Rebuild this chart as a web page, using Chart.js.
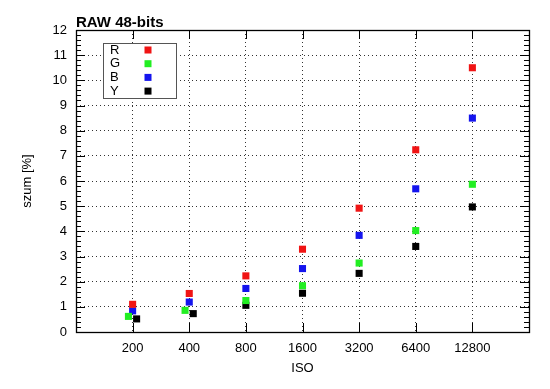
<!DOCTYPE html>
<html>
<head>
<meta charset="utf-8">
<script src="https://cdn.jsdelivr.net/npm/chart.js@4/dist/chart.umd.min.js"></script>
<style>
  body { margin: 0; background: #fff; }
  canvas { display: block; }
</style>
</head>
<body>
<canvas id="noiseChart" width="550" height="389"></canvas>
<script>
// ISO values (x) and noise in % per channel
const isoTicks = [200, 400, 800, 1600, 3200, 6400, 12800];
const isoR = [200, 400, 800, 1600, 3200, 6400, 12800];
const isoG = [190, 380, 800, 1600, 3200, 6400, 12800];
const isoB = [200, 400, 800, 1600, 3200, 6400, 12800];
const isoY = [210, 420, 800, 1600, 3200, 6400, 12800];
const noiseR = [1.10, 1.53, 2.23, 3.29, 4.92, 7.24, 10.5];
const noiseG = [0.62, 0.86, 1.25, 1.84, 2.74, 4.03, 5.87];
const noiseB = [0.84, 1.19, 1.73, 2.52, 3.84, 5.69, 8.50];
const noiseY = [0.52, 0.73, 1.06, 1.54, 2.33, 3.40, 4.97];
const yTicks = [0, 1, 2, 3, 4, 5, 6, 7, 8, 9, 10, 11, 12];

const font = 'Liberation Sans, Arial, sans-serif';

function pts(xs, ys) {
  return xs.map((x, i) => ({ x: x, y: ys[i] }));
}

function series(label, xs, ys, color) {
  return {
    label: label,
    data: pts(xs, ys),
    backgroundColor: color,
    borderColor: color,
    pointStyle: 'rect',
    pointRadius: 5,
    pointBorderWidth: 0,
    showLine: false
  };
}

// gnuplot-like frame, inward ticks, title and key box
const gnuplotDecor = {
  id: 'gnuplotDecor',
  afterDatasetsDraw(chart) {
    const ctx = chart.ctx;
    const a = chart.chartArea;
    const xs = chart.scales.x, ys = chart.scales.y;
    ctx.save();
    ctx.strokeStyle = '#000';
    ctx.lineWidth = 1;
    ctx.beginPath();
    // major y ticks left/right
    yTicks.forEach(v => {
      const p = Math.round(ys.getPixelForValue(v)) + 0.5;
      ctx.moveTo(a.left, p); ctx.lineTo(a.left + 9, p);
      ctx.moveTo(a.right, p); ctx.lineTo(a.right - 9, p);
    });
    // minor y ticks every 0.2
    for (let i = 0; i < 60; i++) {
      if (i % 5 === 0) continue;
      const p = Math.round(ys.getPixelForValue(i * 0.2)) + 0.5;
      ctx.moveTo(a.left, p); ctx.lineTo(a.left + 5, p);
      ctx.moveTo(a.right, p); ctx.lineTo(a.right - 5, p);
    }
    // x ticks bottom/top
    isoTicks.forEach(v => {
      const p = Math.round(xs.getPixelForValue(v)) + 0.5;
      ctx.moveTo(p, a.bottom); ctx.lineTo(p, a.bottom - 9);
      ctx.moveTo(p, a.top); ctx.lineTo(p, a.top + 9);
    });
    ctx.stroke();
    // frame
    ctx.lineWidth = 1.3;
    ctx.strokeRect(Math.round(a.left) + 0.5, Math.round(a.top) + 0.5,
      Math.round(a.right - a.left), Math.round(a.bottom - a.top));

    // key box
    const bx = a.left + 27, by = a.top + 13, bw = 73, bh = 55;
    ctx.fillStyle = '#fff';
    ctx.fillRect(bx, by, bw, bh);
    ctx.strokeStyle = '#555';
    ctx.lineWidth = 1;
    ctx.strokeRect(bx + 0.5, by + 0.5, bw, bh);
    ctx.font = '13px ' + font;
    ctx.textBaseline = 'middle';
    ctx.textAlign = 'left';
    chart.data.datasets.forEach((ds, i) => {
      const cy = by + 7 + i * 13.7;
      ctx.fillStyle = '#000';
      ctx.fillText(ds.label, bx + 7, cy);
      ctx.fillStyle = ds.backgroundColor;
      ctx.fillRect(bx + 41.5, cy - 3.5, 7, 7);
    });

    // title
    ctx.fillStyle = '#000';
    ctx.font = 'bold 15px ' + font;
    ctx.textBaseline = 'alphabetic';
    ctx.fillText('RAW 48-bits', a.left, 27);
    ctx.restore();
  }
};

new Chart(document.getElementById('noiseChart').getContext('2d'), {
  type: 'scatter',
  data: {
    datasets: [
      series('R', isoR, noiseR, '#f01414'),
      series('G', isoG, noiseG, '#22ee22'),
      series('B', isoB, noiseB, '#1414ee'),
      series('Y', isoY, noiseY, '#000000')
    ]
  },
  options: {
    responsive: false,
    animation: false,
    devicePixelRatio: 1,
    layout: { padding: { top: 30, right: 21, left: 0, bottom: 0 } },
    plugins: {
      legend: { display: false },
      tooltip: { enabled: false }
    },
    scales: {
      x: {
        type: 'logarithmic',
        min: 100,
        max: 25600,
        afterBuildTicks: s => { s.ticks = isoTicks.map(v => ({ value: v })); },
        afterFit: s => { s.height = 57; },
        ticks: {
          callback: v => String(v),
          color: '#000',
          font: { family: font, size: 13 },
          padding: 9,
          maxRotation: 0,
          autoSkip: false
        },
        grid: { color: '#333', lineWidth: 1, drawTicks: false },
        border: { display: false, dash: [1, 3] },
        title: {
          display: true,
          text: 'ISO',
          color: '#000',
          font: { family: font, size: 13 },
          padding: { top: 0, bottom: 13 }
        }
      },
      y: {
        min: 0,
        max: 12,
        afterFit: s => { s.width = 76; },
        ticks: {
          stepSize: 1,
          color: '#000',
          font: { family: font, size: 13 },
          padding: 9
        },
        grid: { color: '#333', lineWidth: 1, drawTicks: false },
        border: { display: false, dash: [1, 3] },
        title: {
          display: true,
          text: 'szum [%]',
          color: '#000',
          font: { family: font, size: 13 },
          padding: { top: 20, bottom: 0 }
        }
      }
    }
  },
  plugins: [gnuplotDecor]
});
</script>
</body>
</html>
